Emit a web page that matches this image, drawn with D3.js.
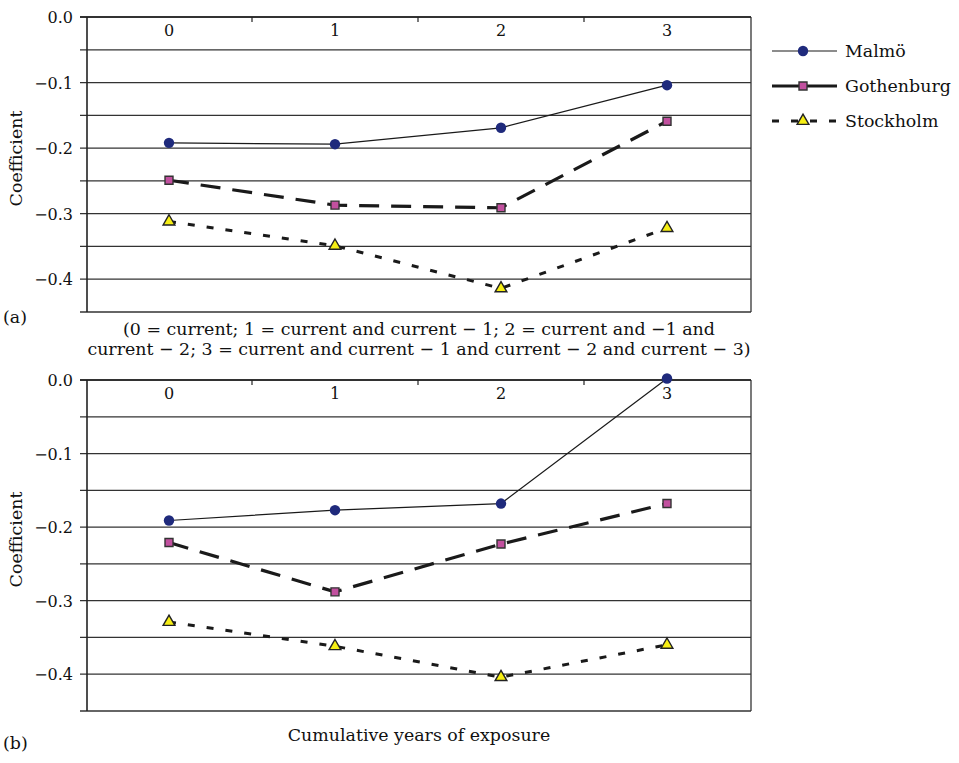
<!DOCTYPE html>
<html>
<head>
<meta charset="utf-8">
<script src="https://cdn.jsdelivr.net/npm/d3@7"></script>
<style>
  body { margin: 0; background: #fff; }
  text { font-family: "DejaVu Serif", serif; fill: #111; }
</style>
</head>
<body>
<div id="chart"></div>
<script>
const categories = ["0", "1", "2", "3"];
const cities = ["Malmö", "Gothenburg", "Stockholm"];

// panel (a)
const aMalmo = [-0.192, -0.194, -0.169, -0.104];
const aGothenburg = [-0.249, -0.287, -0.291, -0.159];
const aStockholm = [-0.312, -0.349, -0.414, -0.322];

// panel (b)
const bMalmo = [-0.191, -0.177, -0.168, 0.002];
const bGothenburg = [-0.221, -0.288, -0.223, -0.168];
const bStockholm = [-0.329, -0.362, -0.404, -0.360];

const yTickLabels = [0, -0.1, -0.2, -0.3, -0.4];
const gridValues = [0, -0.05, -0.1, -0.15, -0.2, -0.25, -0.3, -0.35, -0.4, -0.45];

const captionA = [
    "(0 = current; 1 = current and current \u2212 1; 2 = current and \u22121 and",
    "current \u2212 2; 3 = current and current \u2212 1 and current \u2212 2 and current \u2212 3)"
];
const xTitleB = "Cumulative years of exposure";

const width = 959, height = 763;
const left = 87, right = 751;
const fs = "17.4px";

const styles = {
    "Malmö": { width: 1.2, dash: null, symbol: d3.symbolCircle, size: 85, fill: "#1f2a7c", stroke: "#1f2a7c" },
    "Gothenburg": { width: 3.2, dash: "20,12", symbol: d3.symbolSquare, size: 64, fill: "#c2509f", stroke: "#333" },
    "Stockholm": { width: 3, dash: "7,12", symbol: d3.symbolTriangle, size: 60, fill: "#f6ee14", stroke: "#222" }
};

const svg = d3.select("#chart")
    .append("svg")
    .attr("width", width)
    .attr("height", height);

const x = d3.scaleBand()
    .domain(categories)
    .range([left - 1, right - 1]);

function drawPanel(top, bottom, series) {
    const y = d3.scaleLinear()
        .domain([0, -0.45])
        .range([top, bottom]);

    const g = svg.append("g");

    // gridlines, with ticks extending left of the axis
    g.selectAll(".grid")
        .data(gridValues)
        .join("line")
        .attr("x1", left - 7)
        .attr("x2", right)
        .attr("y1", d => y(d))
        .attr("y2", d => y(d))
        .attr("stroke", "#333")
        .attr("stroke-width", 1.3);

    // frame
    g.append("line")
        .attr("x1", left).attr("x2", left)
        .attr("y1", top).attr("y2", bottom)
        .attr("stroke", "#222").attr("stroke-width", 1.6);
    g.append("line")
        .attr("x1", right).attr("x2", right)
        .attr("y1", top).attr("y2", bottom)
        .attr("stroke", "#333").attr("stroke-width", 1.3);
    g.append("line")
        .attr("x1", left - 7).attr("x2", right)
        .attr("y1", top).attr("y2", top)
        .attr("stroke", "#222").attr("stroke-width", 1.6);

    // category boundary ticks on the top axis
    g.selectAll(".xtick")
        .data(categories.slice(1))
        .join("line")
        .attr("x1", d => x(d))
        .attr("x2", d => x(d))
        .attr("y1", top)
        .attr("y2", top + 5)
        .attr("stroke", "#222")
        .attr("stroke-width", 1.2);

    g.selectAll(".xlabel")
        .data(categories)
        .join("text")
        .attr("x", d => x(d) + x.bandwidth() / 2)
        .attr("y", top + 19)
        .attr("text-anchor", "middle")
        .style("font-size", "16px")
        .text(d => d);

    g.selectAll(".ylabel")
        .data(yTickLabels)
        .join("text")
        .attr("x", 73)
        .attr("y", d => y(d) + 6)
        .attr("text-anchor", "end")
        .style("font-size", "16px")
        .text(d => d === 0 ? "0.0" : "\u2212" + Math.abs(d).toFixed(1));

    g.append("text")
        .attr("transform", `translate(22, ${(top + bottom) / 2 - 6}) rotate(-90)`)
        .attr("text-anchor", "middle")
        .style("font-size", fs)
        .text("Coefficient");

    const line = d3.line()
        .x((d, i) => x(categories[i]) + x.bandwidth() / 2)
        .y(d => y(d));

    series.forEach(s => {
        const st = styles[s.name];
        g.append("path")
            .datum(s.values)
            .attr("d", line)
            .attr("fill", "none")
            .attr("stroke", "#1a1a1a")
            .attr("stroke-width", st.width)
            .attr("stroke-dasharray", st.dash);
    });

    series.forEach(s => {
        const st = styles[s.name];
        g.selectAll(null)
            .data(s.values)
            .join("path")
            .attr("transform", (d, i) => `translate(${x(categories[i]) + x.bandwidth() / 2}, ${y(d)})`)
            .attr("d", d3.symbol().type(st.symbol).size(st.size))
            .attr("fill", st.fill)
            .attr("stroke", st.stroke)
            .attr("stroke-width", s.name === "Malmö" ? 0 : 1.4);
    });
}

drawPanel(17, 312, [
    { name: "Malmö", values: aMalmo },
    { name: "Gothenburg", values: aGothenburg },
    { name: "Stockholm", values: aStockholm }
]);

drawPanel(380, 711, [
    { name: "Malmö", values: bMalmo },
    { name: "Gothenburg", values: bGothenburg },
    { name: "Stockholm", values: bStockholm }
]);

// panel labels and captions
svg.append("text").attr("x", 3).attr("y", 323).style("font-size", fs).text("(a)");
svg.append("text").attr("x", 3).attr("y", 749).style("font-size", fs).text("(b)");

svg.selectAll(".caption")
    .data(captionA)
    .join("text")
    .attr("x", (left + right) / 2)
    .attr("y", (d, i) => 335 + i * 20)
    .attr("text-anchor", "middle")
    .style("font-size", fs)
    .text(d => d);

svg.append("text")
    .attr("x", (left + right) / 2)
    .attr("y", 741)
    .attr("text-anchor", "middle")
    .style("font-size", fs)
    .text(xTitleB);

// legend
const legend = svg.append("g")
    .selectAll("g")
    .data(cities)
    .join("g")
    .attr("transform", (d, i) => `translate(772, ${51 + i * 35})`);

legend.append("line")
    .attr("x1", 0).attr("x2", 65)
    .attr("stroke", "#1a1a1a")
    .attr("stroke-width", d => styles[d].width)
    .attr("stroke-dasharray", d => d === "Stockholm" ? styles[d].dash : null);

legend.append("path")
    .attr("transform", "translate(31, 0)")
    .attr("d", d => d3.symbol().type(styles[d].symbol).size(styles[d].size)())
    .attr("fill", d => styles[d].fill)
    .attr("stroke", d => styles[d].stroke)
    .attr("stroke-width", d => d === "Malmö" ? 0 : 1.4);

legend.append("text")
    .attr("x", 73)
    .attr("y", 6)
    .style("font-size", fs)
    .text(d => d);
</script>
</body>
</html>
